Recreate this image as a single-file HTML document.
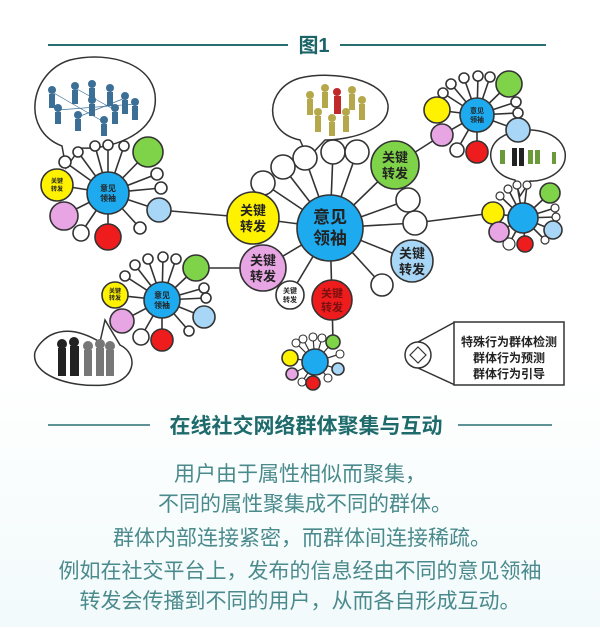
<!DOCTYPE html>
<html><head><meta charset="utf-8"><style>
html,body{margin:0;padding:0;background:#fff;}
body{width:600px;height:627px;overflow:hidden;font-family:"Liberation Sans","Noto Sans CJK SC",sans-serif;}
svg text{font-family:"Liberation Sans","Noto Sans CJK SC",sans-serif;}
</style></head><body>
<svg width="600" height="627" viewBox="0 0 600 627" xmlns="http://www.w3.org/2000/svg">
<defs><linearGradient id="bg" x1="0" y1="0" x2="0" y2="1"><stop offset="0.6" stop-color="#ffffff"/><stop offset="1" stop-color="#f2fafb"/></linearGradient></defs>
<rect width="600" height="627" fill="url(#bg)"/>
<line x1="48" y1="45" x2="288" y2="45" stroke="#2a6e72" stroke-width="2"/>
<line x1="340" y1="45" x2="546" y2="45" stroke="#2a6e72" stroke-width="2"/>
<text x="314" y="52" text-anchor="middle" font-size="20" font-weight="bold" fill="#1d6468">图1</text>

<g stroke="#333" stroke-width="1.6" fill="none">
<line x1="330" y1="228" x2="305" y2="158"/><line x1="330" y1="228" x2="333" y2="152"/><line x1="330" y1="228" x2="357" y2="152"/>
<line x1="330" y1="228" x2="283" y2="167"/><line x1="330" y1="228" x2="263" y2="183"/>
<line x1="330" y1="228" x2="408" y2="200"/><line x1="330" y1="228" x2="415" y2="223"/>
<line x1="330" y1="228" x2="382" y2="285"/><line x1="330" y1="228" x2="290" y2="295"/>
<line x1="330" y1="228" x2="253" y2="218"/><line x1="330" y1="228" x2="263" y2="268"/>
<line x1="330" y1="228" x2="395" y2="165"/><line x1="330" y1="228" x2="412" y2="261"/><line x1="330" y1="228" x2="332" y2="300"/>
<line x1="159" y1="210" x2="253" y2="218"/>
<line x1="196" y1="268" x2="263" y2="268"/>
<line x1="395" y1="165" x2="442" y2="135"/>
<line x1="415" y1="223" x2="493" y2="213"/>
<line x1="332" y1="300" x2="333" y2="342"/>
<g>
<line x1="108" y1="193" x2="57" y2="185"/><line x1="108" y1="193" x2="64" y2="215"/><line x1="108" y1="193" x2="108" y2="237"/>
<line x1="108" y1="193" x2="81" y2="233"/><line x1="108" y1="193" x2="148" y2="152"/><line x1="108" y1="193" x2="159" y2="210"/>
<line x1="108" y1="193" x2="65" y2="162"/><line x1="108" y1="193" x2="157" y2="174"/><line x1="108" y1="193" x2="161" y2="188"/>
<line x1="108" y1="193" x2="140" y2="228"/><line x1="108" y1="193" x2="78" y2="152"/><line x1="108" y1="193" x2="95" y2="146"/>
<line x1="108" y1="193" x2="108" y2="145"/><line x1="108" y1="193" x2="124" y2="146"/>
</g>
<g>
<line x1="162" y1="300" x2="115" y2="295"/><line x1="162" y1="300" x2="122" y2="321"/><line x1="162" y1="300" x2="162" y2="340"/>
<line x1="162" y1="300" x2="141" y2="337"/><line x1="162" y1="300" x2="196" y2="268"/><line x1="162" y1="300" x2="204" y2="317"/>
<line x1="162" y1="300" x2="125" y2="276"/><line x1="162" y1="300" x2="135" y2="265"/><line x1="162" y1="300" x2="148" y2="259"/>
<line x1="162" y1="300" x2="163" y2="257"/><line x1="162" y1="300" x2="176" y2="259"/><line x1="162" y1="300" x2="204" y2="288"/>
<line x1="162" y1="300" x2="206" y2="298"/><line x1="162" y1="300" x2="189" y2="331"/>
</g>
<g>
<line x1="477" y1="115" x2="437" y2="110"/><line x1="477" y1="115" x2="442" y2="135"/><line x1="477" y1="115" x2="457" y2="150"/>
<line x1="477" y1="115" x2="477" y2="152"/><line x1="477" y1="115" x2="509" y2="84"/><line x1="477" y1="115" x2="518" y2="130"/>
<line x1="477" y1="115" x2="443" y2="93"/><line x1="477" y1="115" x2="451" y2="84"/><line x1="477" y1="115" x2="464" y2="78"/>
<line x1="477" y1="115" x2="478" y2="76"/><line x1="477" y1="115" x2="490" y2="77"/><line x1="477" y1="115" x2="516" y2="102"/>
<line x1="477" y1="115" x2="518" y2="113"/>
</g>
<g>
<line x1="523" y1="218" x2="493" y2="213"/><line x1="523" y1="218" x2="499" y2="232"/><line x1="523" y1="218" x2="509" y2="244"/>
<line x1="523" y1="218" x2="525" y2="244"/><line x1="523" y1="218" x2="550" y2="193"/><line x1="523" y1="218" x2="553" y2="230"/>
<line x1="523" y1="218" x2="500" y2="196"/><line x1="523" y1="218" x2="508" y2="189"/><line x1="523" y1="218" x2="517" y2="185"/>
<line x1="523" y1="218" x2="527" y2="185"/><line x1="523" y1="218" x2="555" y2="208"/><line x1="523" y1="218" x2="556" y2="217"/>
<line x1="523" y1="218" x2="545" y2="240"/>
</g>
<g stroke-width="1.2">
<line x1="315" y1="362" x2="333" y2="342"/><line x1="315" y1="362" x2="290" y2="358"/><line x1="315" y1="362" x2="292" y2="374"/>
<line x1="315" y1="362" x2="313" y2="383"/><line x1="315" y1="362" x2="338" y2="369"/><line x1="315" y1="362" x2="296" y2="343"/>
<line x1="315" y1="362" x2="303" y2="339"/><line x1="315" y1="362" x2="313" y2="337"/><line x1="315" y1="362" x2="322" y2="338"/>
<line x1="315" y1="362" x2="340" y2="354"/><line x1="315" y1="362" x2="302" y2="382"/><line x1="315" y1="362" x2="328" y2="378"/>
</g>
</g>

<g stroke="#333" stroke-width="1.5" fill="#fff">
<path d="M62 146 C20 130 30 72 70 60 C110 50 160 65 155 105 C152 135 110 150 80 148 L66 168 Z"/>
<path d="M100 342 C60 318 40 340 35 352 C30 375 70 388 105 385 C135 382 140 355 120 345 L105 320 Z"/>
<path d="M300 140 C262 132 265 88 300 78 C335 70 385 80 388 105 C390 130 350 140 325 140 L308 158 Z"/>
<path d="M515 180 C490 175 483 150 500 138 C520 124 560 128 565 152 C568 172 545 182 530 181 L520 196 Z"/>
</g>
<g fill="#3c6f96">
<circle cx="52" cy="90" r="4"/><rect x="49" y="94" width="6" height="14"/>
<circle cx="75" cy="86" r="4"/><rect x="72" y="90" width="6" height="14"/>
<circle cx="92" cy="84" r="4"/><rect x="89" y="88" width="6" height="14"/>
<circle cx="110" cy="88" r="4"/><rect x="107" y="92" width="6" height="14"/>
<circle cx="125" cy="96" r="4"/><rect x="122" y="100" width="6" height="14"/>
<circle cx="135" cy="102" r="4"/><rect x="132" y="106" width="6" height="14"/>
<circle cx="58" cy="108" r="4"/><rect x="55" y="112" width="6" height="12"/>
<circle cx="78" cy="115" r="4"/><rect x="75" y="119" width="6" height="12"/>
<circle cx="104" cy="120" r="4"/><rect x="101" y="124" width="6" height="12"/>
<circle cx="92" cy="100" r="4"/><rect x="89" y="104" width="6" height="12"/>
<circle cx="115" cy="108" r="4"/><rect x="112" y="112" width="6" height="12"/>
</g>
<g stroke="#3c6f96" stroke-width="0.7"><line x1="58" y1="110" x2="135" y2="104"/><line x1="52" y1="92" x2="104" y2="122"/><line x1="75" y1="88" x2="115" y2="110"/><line x1="125" y1="98" x2="78" y2="117"/></g>
<g fill="#b5a84a">
<circle cx="310" cy="95" r="4"/><rect x="307" y="99" width="6" height="16"/>
<circle cx="325" cy="88" r="4"/><rect x="322" y="92" width="6" height="16"/>
<circle cx="352" cy="90" r="4"/><rect x="349" y="94" width="6" height="16"/>
<circle cx="362" cy="100" r="4"/><rect x="359" y="104" width="6" height="16"/>
<circle cx="318" cy="112" r="4"/><rect x="315" y="116" width="6" height="16"/>
<circle cx="332" cy="118" r="4"/><rect x="329" y="122" width="6" height="14"/>
<circle cx="346" cy="112" r="4"/><rect x="343" y="116" width="6" height="16"/>
</g>
<g fill="#c0292a"><circle cx="337" cy="92" r="4"/><rect x="334" y="96" width="7" height="18"/></g>
<g fill="#222">
<rect x="58" y="348" width="8" height="28"/><circle cx="62" cy="344" r="5"/>
<rect x="70" y="346" width="9" height="30"/><circle cx="74" cy="342" r="5"/>
</g>
<g fill="#777"><rect x="84" y="350" width="8" height="26"/><circle cx="88" cy="346" r="5"/><rect x="96" y="348" width="8" height="28"/><circle cx="100" cy="344" r="5"/><rect x="106" y="350" width="8" height="26"/><circle cx="110" cy="346" r="5"/></g>
<g fill="#6b9a3a"><rect x="500" y="150" width="5" height="14"/><rect x="528" y="150" width="5" height="14"/><rect x="535" y="150" width="5" height="14"/><rect x="552" y="152" width="4" height="12"/></g>
<g fill="#222"><rect x="512" y="148" width="5" height="18"/><rect x="519" y="148" width="5" height="18"/></g>

<g stroke="#333" stroke-width="1.6">
<g fill="#fff">
<circle cx="305" cy="158" r="12"/><circle cx="333" cy="152" r="12"/><circle cx="357" cy="152" r="12"/>
<circle cx="283" cy="167" r="12"/><circle cx="263" cy="183" r="12"/><circle cx="408" cy="200" r="12"/><circle cx="415" cy="223" r="12"/>
<circle cx="382" cy="285" r="11"/><circle cx="290" cy="295" r="14"/>
</g>
<circle cx="330" cy="228" r="33" fill="#1eaaee"/>
<circle cx="253" cy="218" r="26" fill="#fff200"/>
<circle cx="263" cy="268" r="23" fill="#e8a5e4"/>
<circle cx="395" cy="165" r="24" fill="#7ed348"/>
<circle cx="412" cy="261" r="21" fill="#a8d6f7"/>
<circle cx="332" cy="300" r="20" fill="#ee1c1c"/>
<g fill="#fff"><circle cx="65" cy="162" r="6"/><circle cx="157" cy="174" r="6"/><circle cx="161" cy="188" r="6"/><circle cx="140" cy="228" r="6"/><circle cx="78" cy="152" r="5"/><circle cx="95" cy="146" r="5"/><circle cx="108" cy="145" r="5"/><circle cx="124" cy="146" r="5"/><circle cx="81" cy="233" r="8"/></g>
<circle cx="108" cy="193" r="21" fill="#1eaaee"/>
<circle cx="57" cy="185" r="16" fill="#fff200"/><circle cx="64" cy="216" r="14" fill="#e8a5e4"/>
<circle cx="108" cy="237" r="13" fill="#ee1c1c"/><circle cx="148" cy="152" r="15" fill="#7ed348"/><circle cx="159" cy="210" r="12" fill="#a8d6f7"/>
<g fill="#fff"><circle cx="125" cy="276" r="5"/><circle cx="135" cy="265" r="5"/><circle cx="148" cy="259" r="5"/><circle cx="163" cy="257" r="5"/><circle cx="176" cy="259" r="5"/><circle cx="204" cy="288" r="5"/><circle cx="206" cy="298" r="5"/><circle cx="189" cy="331" r="5"/><circle cx="141" cy="337" r="8"/></g>
<circle cx="162" cy="300" r="18" fill="#1eaaee"/>
<circle cx="115" cy="295" r="13" fill="#fff200"/><circle cx="122" cy="321" r="12" fill="#e8a5e4"/>
<circle cx="162" cy="340" r="11" fill="#ee1c1c"/><circle cx="196" cy="268" r="13" fill="#7ed348"/><circle cx="204" cy="317" r="11" fill="#a8d6f7"/>
<g fill="#fff"><circle cx="443" cy="93" r="5"/><circle cx="451" cy="84" r="5"/><circle cx="464" cy="78" r="5"/><circle cx="478" cy="76" r="5"/><circle cx="490" cy="77" r="5"/><circle cx="516" cy="102" r="5"/><circle cx="518" cy="113" r="5"/><circle cx="457" cy="150" r="7"/></g>
<circle cx="518" cy="130" r="12" fill="#a8d6f7"/>
<circle cx="477" cy="115" r="17" fill="#1eaaee"/>
<circle cx="437" cy="110" r="13" fill="#fff200"/><circle cx="442" cy="135" r="11" fill="#e8a5e4"/>
<circle cx="477" cy="152" r="11" fill="#ee1c1c"/><circle cx="509" cy="84" r="13" fill="#7ed348"/>
<g fill="#fff" stroke-width="1.2"><circle cx="500" cy="196" r="4"/><circle cx="508" cy="189" r="4"/><circle cx="517" cy="185" r="4"/><circle cx="527" cy="185" r="4"/><circle cx="555" cy="208" r="4"/><circle cx="556" cy="217" r="4"/><circle cx="545" cy="240" r="4"/><circle cx="509" cy="244" r="6"/></g>
<circle cx="523" cy="218" r="15" fill="#1eaaee"/>
<circle cx="493" cy="213" r="11" fill="#fff200"/><circle cx="499" cy="232" r="10" fill="#e8a5e4"/>
<circle cx="525" cy="244" r="8" fill="#ee1c1c"/><circle cx="550" cy="193" r="10" fill="#7ed348"/><circle cx="553" cy="230" r="9" fill="#a8d6f7"/>
<g fill="#fff" stroke-width="1.1"><circle cx="296" cy="343" r="4"/><circle cx="303" cy="339" r="4"/><circle cx="313" cy="337" r="4"/><circle cx="322" cy="338" r="4"/><circle cx="340" cy="354" r="4"/><circle cx="302" cy="382" r="4"/><circle cx="328" cy="378" r="4"/></g>
<circle cx="315" cy="362" r="13" fill="#1eaaee"/>
<circle cx="333" cy="342" r="7" fill="#7ed348"/><circle cx="290" cy="358" r="8" fill="#fff200"/><circle cx="292" cy="374" r="6" fill="#e8a5e4"/>
<circle cx="313" cy="383" r="7" fill="#ee1c1c"/><circle cx="338" cy="369" r="6" fill="#a8d6f7"/>
</g>

<g font-weight="bold" text-anchor="middle" fill="#222">
<text x="330" y="223" font-size="17">意见</text><text x="330" y="244" font-size="17">领袖</text>
<text x="253" y="215" font-size="13">关键</text><text x="253" y="231" font-size="13">转发</text>
<text x="263" y="265" font-size="13">关键</text><text x="263" y="281" font-size="13">转发</text>
<text x="395" y="162" font-size="13">关键</text><text x="395" y="178" font-size="13">转发</text>
<text x="412" y="258" font-size="13">关键</text><text x="412" y="274" font-size="13">转发</text>
<text x="332" y="297" font-size="11" fill="#7a1010">关键</text><text x="332" y="311" font-size="11" fill="#7a1010">转发</text>
<text x="290" y="293" font-size="7">关键</text><text x="290" y="302" font-size="7">转发</text>
<text x="108" y="191" font-size="8">意见</text><text x="108" y="201" font-size="8">领袖</text>
<text x="57" y="183" font-size="6">关键</text><text x="57" y="191" font-size="6">转发</text>
<text x="162" y="298" font-size="8">意见</text><text x="162" y="308" font-size="8">领袖</text>
<text x="115" y="293" font-size="6">关键</text><text x="115" y="300" font-size="6">转发</text>
<text x="477" y="113" font-size="7">意见</text><text x="477" y="122" font-size="7">领袖</text>
</g>

<g stroke="#333" stroke-width="1.5" fill="#fff">
<line x1="418" y1="342" x2="455" y2="322"/><line x1="418" y1="368" x2="455" y2="385"/>
<circle cx="418" cy="355" r="13"/>
<rect x="454" y="322" width="110" height="63"/>
</g>
<path d="M418 347 L422 351 L426 355 L422 359 L418 363 L414 359 L410 355 L414 351 Z" fill="none" stroke="#333" stroke-width="1.2"/>
<g font-size="12" font-weight="bold" text-anchor="middle" fill="#222">
<text x="509" y="346">特殊行为群体检测</text><text x="509" y="362">群体行为预测</text><text x="509" y="378">群体行为引导</text>
</g>

<line x1="48" y1="425" x2="150" y2="425" stroke="#2a6e72" stroke-width="1.5"/>
<line x1="458" y1="425" x2="552" y2="425" stroke="#2a6e72" stroke-width="1.5"/>
<text x="306" y="433" text-anchor="middle" font-size="21" font-weight="bold" fill="#1f6b6c">在线社交网络群体聚集与互动</text>
<g font-size="21" text-anchor="middle" fill="#4a8a8c">
<text x="300" y="481">用户由于属性相似而聚集，</text>
<text x="305" y="511">不同的属性聚集成不同的群体。</text>
<text x="302" y="545">群体内部连接紧密，而群体间连接稀疏。</text>
<text x="300" y="578">例如在社交平台上，发布的信息经由不同的意见领袖</text>
<text x="300" y="608">转发会传播到不同的用户，从而各自形成互动。</text>
</g>
</svg>
</body></html>
